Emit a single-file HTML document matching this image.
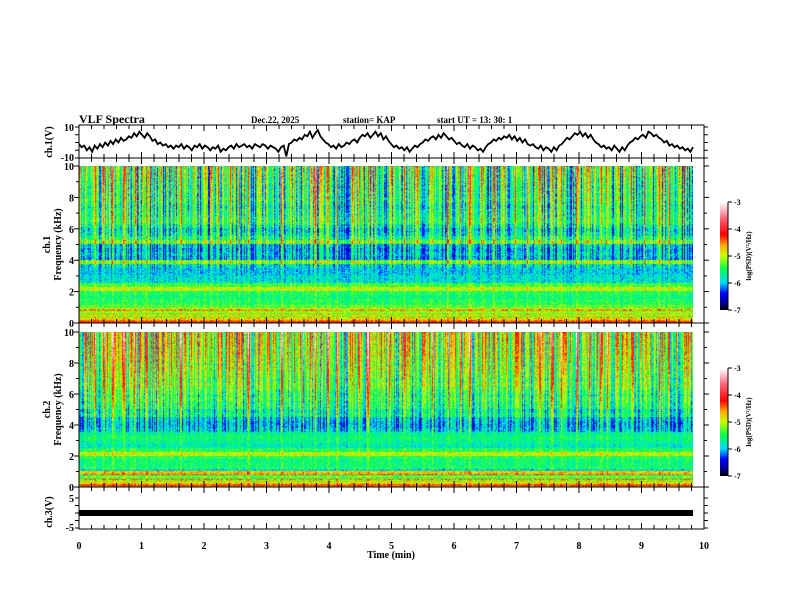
<!DOCTYPE html>
<html><head><meta charset="utf-8">
<style>
body{margin:0;background:#fff;width:792px;height:612px;overflow:hidden;font-family:"Liberation Serif",serif;}
#wrap{position:relative;width:792px;height:612px;}
svg{position:absolute;left:0;top:0;}
canvas{position:absolute;}
.t{font-family:"Liberation Serif",serif;font-weight:bold;font-size:10px;fill:#000;}
</style></head>
<body>
<div id="wrap">
<canvas id="sp1" width="614" height="157" style="left:79px;top:166px"></canvas>
<canvas id="sp2" width="614" height="155" style="left:79px;top:332px"></canvas>
<canvas id="cb1" width="8" height="108" style="left:720px;top:202px"></canvas>
<canvas id="cb2" width="8" height="108" style="left:720px;top:368px"></canvas>
<svg id="s" width="792" height="612"></svg>
</div>
<script>
// ---- data ----
const ch1Values=[-1,-3,-2,-5,-3,-6,-2,-4,-1,-3,0,-2,1,-1,2,0,3,1,2,4,3,6,4,7,5,3,6,4,1,2,-1,0,-2,-1,-3,-2,-4,-2,-3,-1,-4,-2,-3,-5,-2,-3,-1,-4,-2,-3,-5,-3,-4,-2,-6,-4,-5,-3,-2,-4,-1,-3,-2,-1,-3,-2,-4,-1,-2,-3,-1,-2,-4,-2,-3,-4,-6,-3,-2,-9,-1,0,2,1,3,2,5,4,7,3,6,8,4,2,0,-1,-3,-2,-4,-1,-3,-2,0,-1,1,2,0,3,5,4,6,3,5,7,4,6,2,4,1,-1,-3,-2,-4,-3,-5,-3,-6,-4,-2,-3,-1,0,2,1,3,4,2,5,3,6,4,2,3,1,-1,0,-2,-3,-1,-4,-2,-3,-5,-4,-6,-3,-1,0,2,1,3,2,4,3,5,2,4,1,3,0,2,-1,-2,-1,-3,-4,-2,-5,-3,-4,-6,-3,-5,-2,-1,1,3,2,4,6,5,7,4,6,3,5,2,0,-1,-3,-2,-4,-3,-5,-2,-4,-6,-3,-5,-2,0,1,3,2,4,5,3,7,6,4,5,3,2,0,1,-2,-1,-3,-2,-4,-3,-5,-4,-6,-3];
const streakTimes=[0.1,0.25,0.4,0.55,0.62,0.72,0.9,1.1,1.3,1.5,1.65,1.85,2.05,2.25,2.45,2.6,2.75,2.95,3.15,3.3,3.5,3.65,3.85,4.05,4.2,4.45,4.55,4.7,4.82,5.05,5.3,5.5,5.75,6.0,6.2,6.35,6.55,6.75,6.95,7.1,7.3,7.5,7.7,7.85,8.1,8.3,8.5,8.6,8.75,9.0,9.2,9.45,9.6];
const streakStrength=[0.9,1.0,0.7,1.2,0.8,1.0,0.9,0.6,0.7,0.8,1.1,0.9,0.7,1.0,0.8,1.2,1.0,0.9,0.6,1.1,0.8,0.7,0.9,0.8,1.0,1.1,0.9,1.2,0.8,0.7,0.9,0.8,1.0,0.9,0.8,1.1,0.7,0.9,0.6,0.8,1.0,0.7,0.9,0.8,1.1,0.9,1.3,1.0,0.8,0.9,0.7,1.0,0.8];
// log PSD per 0.25 kHz bin, 0 -> 10 kHz
const bandCh1=[-4.6,-5.0,-5.1,-4.9,-5.5,-5.5,-5.6,-5.5,-5.0,-5.4,-5.9,-5.9,-6.0,-6.0,-5.9,-5.2,-6.1,-6.0,-6.1,-6.0,-5.2,-5.6,-5.8,-5.9,-5.7,-5.5,-5.5,-5.6,-5.6,-5.7,-5.6,-5.5,-5.6,-5.5,-5.6,-5.5,-5.5,-5.4,-5.4,-5.4];
const bandCh2=[-4.6,-5.0,-5.2,-4.9,-5.5,-5.6,-5.6,-5.5,-5.0,-5.5,-5.8,-5.7,-5.6,-5.7,-6.0,-6.1,-6.1,-6.0,-5.7,-5.8,-5.6,-5.6,-5.5,-5.6,-5.5,-5.4,-5.3,-5.4,-5.3,-5.3,-5.2,-5.3,-5.2,-5.2,-5.1,-5.2,-5.1,-5.1,-5.1,-5.1];
const timeTicks=[0,1,2,3,4,5,6,7,8,9,10];
const freqTicks=[0,2,4,6,8,10];
const cbTicks=[-3,-4,-5,-6,-7];

const X0=79,X1=704;
const xs=t=>X0+(X1-X0)*t/10;
const svg=document.getElementById('s');
const NS='http://www.w3.org/2000/svg';
function el(tag,a,parent){const e=document.createElementNS(NS,tag);for(const k in a)e.setAttribute(k,a[k]);(parent||svg).appendChild(e);return e;}
function txt(x,y,s,anchor,size,rot){const e=el('text',{x:x,y:y,class:'t','text-anchor':anchor||'start'});if(size)e.style.fontSize=size+'px';if(rot)e.setAttribute('transform','rotate(-90 '+x+' '+y+')');e.textContent=s;return e;}

const cstops=[[-7,[0,0,0]],[-6.8,[0,0,130]],[-6.4,[0,0,255]],[-6.0,[0,220,255]],[-5.5,[0,255,80]],[-5.0,[200,255,0]],[-4.6,[255,170,0]],[-4.2,[255,0,0]],[-3.6,[255,100,120]],[-3.0,[255,255,255]]];
function cmap(v){if(v<=-7)return cstops[0][1];if(v>=-3)return cstops[cstops.length-1][1];for(let i=1;i<cstops.length;i++){if(v<=cstops[i][0]){const a=cstops[i-1],b=cstops[i];const f=(v-a[0])/(b[0]-a[0]);return [0,1,2].map(j=>a[1][j]+(b[1][j]-a[1][j])*f);}}}
function hash(a,b){let h=(a*374761393+b*668265263)|0;h=(h^(h>>>13))*1274126177|0;return ((h^(h>>>16))>>>0)/4294967296;}

function drawSpec(id,band,seed){
  const c=document.getElementById(id),ctx=c.getContext('2d'),W=c.width,H=c.height;
  const img=ctx.createImageData(W,H);
  const colNoise=[];
  for(let x=0;x<W;x++){
    const t=10*x/W;let s=0;
    for(let i=0;i<streakTimes.length;i++){const d=(t-streakTimes[i])/0.018;s+=streakStrength[i]*Math.exp(-d*d);}
    colNoise.push([s,(hash(x,seed)-0.5)*2.4]);
  }
  for(let y=0;y<H;y++){
    const f=10*(H-1-y)/H;const bi=Math.min(band.length-1,Math.floor(f/0.25));
    const w=f>3.5?0.35+0.08*(f-3.5):0.12;
    for(let x=0;x<W;x++){
      const [s,cn]=colNoise[x];
      let v=band[bi]+s*w*1.6+cn*w+(hash(x*7+y,y*13+seed)-0.5)*0.6;
      if(f<1.1)v+=(hash(y,seed)-0.5)*0.9;
      const col=cmap(v);const k=(y*W+x)*4;
      img.data[k]=col[0];img.data[k+1]=col[1];img.data[k+2]=col[2];img.data[k+3]=255;
    }
  }
  ctx.putImageData(img,0,0);
}
drawSpec('sp1',bandCh1,11);
drawSpec('sp2',bandCh2,29);
['cb1','cb2'].forEach(id=>{const c=document.getElementById(id),ctx=c.getContext('2d');for(let y=0;y<c.height;y++){const v=-3-4*y/(c.height-1);const col=cmap(v);ctx.fillStyle='rgb('+col.map(Math.round).join(',')+')';ctx.fillRect(0,y,c.width,1);}});

const panels=[{n:'ch1-panel',y0:125,y1:158},{n:'spec1-panel',y0:158,y1:323},{n:'spec2-panel',y0:323,y1:487},{n:'ch3-panel',y0:487,y1:529}];
panels.forEach(p=>{const r=el('rect',{x:X0,y:p.y0,width:X1-X0,height:p.y1-p.y0,fill:'none',stroke:'#000','stroke-width':1});
  for(let i=0;i<=50;i++){const x=X0+(X1-X0)*i/50;const L=i%5==0?6:4;el('line',{x1:x,x2:x,y1:p.y0,y2:p.y0+L,stroke:'#000'});el('line',{x1:x,x2:x,y1:p.y1,y2:p.y1-L,stroke:'#000'});}
});
function yTicks(y0,y1,n){for(let i=0;i<=n;i++){const y=y1-(y1-y0)*i/n;el('line',{x1:X0-4,x2:X0,y1:y,y2:y,stroke:'#000'});el('line',{x1:X1,x2:X1+4,y1:y,y2:y,stroke:'#000'});}}
const ch1Y=v=>158-(v+10)/20*31;
yTicks(127,158,4);
txt(74,131,'10','end');txt(74,161,'-10','end');
txt(52,142,'ch.1(V)','middle',10,true);
let d='';ch1Values.forEach((v,i)=>{const x=X0+(693-X0)*i/(ch1Values.length-1);d+=(i?'L':'M')+x.toFixed(1)+' '+ch1Y(v).toFixed(1);});
const tr=el('path',{d:d,fill:'none',stroke:'#000','stroke-width':1.8});

function freqAxis(y0,y1,label){for(let i=0;i<=10;i++){const y=y1-(y1-y0)*i/10;el('line',{x1:X0-(i%2?3:5),x2:X0,y1:y,y2:y,stroke:'#000'});el('line',{x1:X1,x2:X1+(i%2?3:5),y1:y,y2:y,stroke:'#000'});}
 freqTicks.forEach(f=>txt(74,y1-(y1-y0)*f/10+4,String(f),'end'));
 txt(50,(y0+y1)/2,label,'middle',10,true);txt(61,(y0+y1)/2,'Frequency (kHz)','middle',10,true);}
freqAxis(166,323,'ch.1');freqAxis(332,487,'ch.2');
const ch3Y=v=>513-v*3;
yTicks(498,528,4);
txt(74,502,'5','end');txt(74,531,'-5','end');
txt(52,512,'ch.3(V)','middle',10,true);
const b3=el('rect',{x:X0,y:ch3Y(1),width:693-X0,height:6,fill:'#000'});

timeTicks.forEach(t=>txt(xs(t),549,String(t),'middle'));
txt(391,558,'Time  (min)','middle');
txt(79,123,'VLF Spectra','start',12);
txt(251,123,'Dec.22, 2025','start',9);
txt(343,123,'station= KAP','start',9);
txt(437,123,'start  UT  =   13: 30: 1','start',9);
function cbAxis(y0,y1){cbTicks.forEach((v,i)=>{const y=y0+(y1-y0)*i/4;el('line',{x1:728,x2:732,y1:y,y2:y,stroke:'#000'});txt(734,y+3,String(v),'start',8);});
 el('line',{x1:728,x2:728,y1:y0,y2:y1,stroke:'#000'});
 txt(751,(y0+y1)/2,'log(PSD)(V²/Hz)','middle',7,true);}
cbAxis(202,310);cbAxis(368,476);
</script>
</body></html>
